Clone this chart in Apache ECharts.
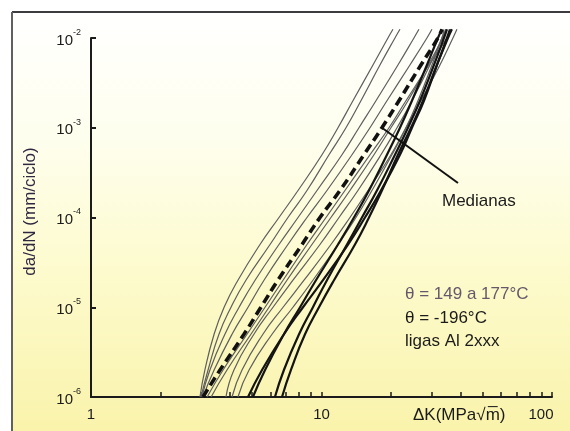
<!DOCTYPE html>
<html>
<head>
<meta charset="utf-8">
<script src="https://cdn.jsdelivr.net/npm/echarts@6/dist/echarts.min.js"></script>
<style>
  html, body { margin: 0; padding: 0; background: #ffffff; }
  #chart { width: 570px; height: 431px; }
</style>
</head>
<body>
<div id="chart"></div>
<script>
// Crack growth rate levels shared by every curve (mm/ciclo)
const dadNLevels = [1e-6, 2e-6, 5e-6, 1e-5, 2e-5, 5e-5, 1e-4, 2e-4, 5e-4, 1e-3, 2e-3, 5e-3, 1e-2, 1.25e-2];

// ΔK (MPa√m) reached by each curve at the levels above
// θ = 149 a 177 °C (thin grey curves)
const hotCurves = [
  [2.97, 3.12, 3.42, 3.78, 4.34, 5.41, 6.54, 7.91, 10.05, 11.79, 13.69, 16.72, 19.42, 20.42],
  [3.00, 3.22, 3.59, 4.05, 4.70, 5.98, 7.15, 8.65, 10.78, 12.77, 14.83, 17.93, 20.83, 21.90],
  [3.03, 3.28, 3.81, 4.39, 5.15, 6.54, 7.91, 9.56, 12.27, 14.54, 17.23, 21.46, 25.18, 26.47],
  [3.06, 3.42, 4.09, 4.80, 5.63, 7.15, 8.65, 10.56, 13.56, 16.23, 19.23, 24.19, 28.67, 30.14],
  [3.19, 3.74, 4.75, 5.69, 6.81, 8.65, 10.46, 12.64, 16.23, 19.62, 23.25, 29.25, 35.01, 36.44],
  [3.32, 3.89, 4.94, 5.92, 7.08, 9.09, 10.99, 13.29, 16.89, 20.01, 23.72, 28.98, 33.64, 35.01],
  [3.85, 4.17, 5.09, 6.16, 7.52, 9.85, 11.91, 14.39, 18.11, 21.26, 24.68, 29.54, 33.30, 34.66],
  [4.09, 4.52, 5.57, 6.81, 8.40, 10.99, 13.29, 15.91, 20.01, 23.25, 27.00, 32.65, 37.17, 38.69],
  [4.34, 4.85, 6.10, 7.52, 9.18, 11.79, 14.11, 16.55, 20.21, 23.25, 26.21, 30.14, 33.30, 33.98]
];
// Median of the hot curves (dashed)
const hotMedian = [3.06, 3.63, 4.61, 5.46, 6.47, 8.23, 9.85, 12.03, 15.28, 18.29, 21.68, 27.00, 32.00, 33.30];

// θ = -196 °C (heavy black curves)
const coldCurves = [
  [4.80, 5.52, 6.87, 8.31, 10.15, 13.03, 15.44, 18.11, 21.90, 24.68, 27.83, 31.68, 35.01, 36.07],
  [5.04, 5.69, 6.87, 8.07, 9.46, 11.79, 13.83, 16.07, 19.23, 21.90, 24.68, 28.67, 32.00, 33.30],
  [6.28, 6.87, 7.99, 9.18, 10.56, 12.90, 14.98, 17.40, 20.83, 23.72, 26.74, 30.75, 33.98, 35.01],
  [6.74, 7.37, 8.48, 9.75, 11.33, 13.97, 16.07, 18.29, 21.46, 24.44, 27.55, 31.68, 35.36, 36.80]
];

// Axis ticks
const yTickValues = [1e-6, 1e-5, 1e-4, 1e-3, 1e-2];
const xLabelValues = [1, 10, 100];
const xTickValues = [1, 2, 3, 4, 5, 6, 7, 8, 9, 10, 20, 30, 40, 50, 60, 70, 80, 90, 100];

// Annotation texts
const xAxisTitle = 'ΔK(MPa√m\u0305)';
const yAxisTitle = 'da/dN (mm/ciclo)';
const medianLabel = 'Medianas';
const noteLines = ['θ = 149 a 177°C', 'θ = -196°C', 'ligas Al 2xxx'];
// Where the "Medianas" pointer starts, in data units [ΔK, da/dN]
const pointerStart = [39.1, 2.42e-4];
const pointerTargetIndex = 9;

const FONT = "'Liberation Sans', Arial, Helvetica, sans-serif";
const INK = '#1b1b1b';

function toPairs(ks) { return ks.map((k, i) => [k, dadNLevels[i]]); }

const lineBase = { type: 'line', smooth: 0.5, showSymbol: false, clip: false, silent: true };

const series = [];
hotCurves.forEach(c => series.push(Object.assign({}, lineBase, {
  data: toPairs(c), lineStyle: { color: '#5e5e5e', width: 1.2 }, z: 2
})));
coldCurves.forEach(c => series.push(Object.assign({}, lineBase, {
  data: toPairs(c), lineStyle: { color: '#141414', width: 2.2 }, z: 3
})));
series.push(Object.assign({}, lineBase, {
  data: toPairs(hotMedian), z: 4,
  lineStyle: { color: '#111111', width: 3.6, type: [9, 5] },
  markLine: {
    silent: true, symbol: 'none', label: { show: false },
    lineStyle: { color: '#111111', width: 2, type: 'solid' },
    data: [[
      { coord: pointerStart },
      { coord: [hotMedian[pointerTargetIndex], dadNLevels[pointerTargetIndex]] }
    ]]
  }
}));

const chart = echarts.init(document.getElementById('chart'), null, { renderer: 'canvas' });

chart.setOption({
  animation: false,
  backgroundColor: '#ffffff',
  grid: { left: 91, right: 18, top: 38, bottom: 34 },
  xAxis: {
    type: 'log', logBase: 10, min: 1, max: 100,
    axisLine: { lineStyle: { color: INK, width: 2 } },
    axisTick: { inside: true, length: 5, customValues: xTickValues, lineStyle: { color: INK, width: 1.5 } },
    minorTick: { show: false },
    splitLine: { show: false },
    axisLabel: {
      customValues: xLabelValues, margin: 10, color: INK, fontFamily: FONT, fontSize: 15,
      formatter: v => v === 100 ? '{e|100}' : String(v),
      rich: { e: { fontFamily: FONT, fontSize: 15, color: INK, padding: [0, 22, 0, 0] } }
    }
  },
  yAxis: {
    type: 'log', logBase: 10, min: 1e-6, max: 1e-2,
    name: yAxisTitle, nameLocation: 'middle', nameGap: 52, nameRotate: 90,
    nameTextStyle: { color: '#2f2740', fontFamily: FONT, fontSize: 17, padding: [0, 0, 0, 12] },
    axisLine: { lineStyle: { color: INK, width: 2 } },
    axisTick: { inside: true, length: 5, customValues: yTickValues, lineStyle: { color: INK, width: 2 } },
    splitLine: { show: false },
    axisLabel: {
      customValues: yTickValues, margin: 10,
      formatter: v => '{b|10}{s|' + Math.round(Math.log10(v)) + '}',
      rich: {
        b: { fontFamily: FONT, fontSize: 15, color: INK, lineHeight: 20, verticalAlign: 'bottom' },
        s: { fontFamily: FONT, fontSize: 9, color: INK, lineHeight: 20, verticalAlign: 'top' }
      }
    }
  },
  graphic: [
    {
      type: 'rect', z: -10, silent: true,
      shape: { x: 12, y: 12, width: 558, height: 419 },
      style: {
        fill: new echarts.graphic.LinearGradient(0, 0, 0, 1, [
          { offset: 0, color: '#ffffff' },
          { offset: 0.3, color: '#fefeee' },
          { offset: 0.6, color: '#fdfbcf' },
          { offset: 1, color: '#f9f3ab' }
        ])
      }
    },
    { type: 'line', silent: true, shape: { x1: 12, y1: 12, x2: 570, y2: 12 }, style: { stroke: '#3b3b40', lineWidth: 2 } },
    { type: 'line', silent: true, shape: { x1: 12, y1: 12, x2: 12, y2: 431 }, style: { stroke: '#606060', lineWidth: 2 } },
    { type: 'text', silent: true, x: 442, y: 201, style: { text: medianLabel, fill: INK, font: '17px ' + FONT, textVerticalAlign: 'middle' } },
    { type: 'text', silent: true, x: 405, y: 294, style: { text: noteLines[0], fill: '#66586a', font: '17px ' + FONT, textVerticalAlign: 'middle' } },
    { type: 'text', silent: true, x: 405, y: 318, style: { text: noteLines[1], fill: INK, font: '17px ' + FONT, textVerticalAlign: 'middle' } },
    { type: 'text', silent: true, x: 405, y: 341, style: { text: noteLines[2], fill: INK, font: '17px ' + FONT, textVerticalAlign: 'middle' } },
    { type: 'text', silent: true, x: 413, y: 415, style: { text: xAxisTitle, fill: INK, font: '17px ' + FONT, textVerticalAlign: 'middle' } }
  ],
  series: series
});
</script>
</body>
</html>
